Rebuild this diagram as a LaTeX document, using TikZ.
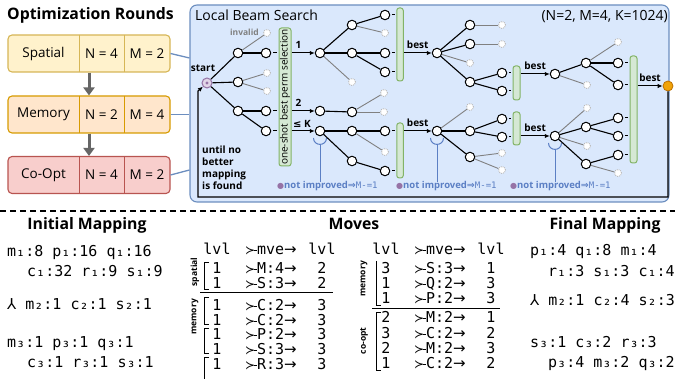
\documentclass[tikz,border=0pt]{standalone}
\usepackage{fontspec}
\setmainfont{Open Sans}
\setmonofont{DejaVu Sans Mono}
\newfontfamily\arrowfont{DejaVu Sans}
\usetikzlibrary{arrows.meta,calc}

\definecolor{fillsp}{HTML}{FFF2CC}
\definecolor{linesp}{HTML}{D6B656}
\definecolor{fillme}{HTML}{FFE6CC}
\definecolor{lineme}{HTML}{D79B00}
\definecolor{fillco}{HTML}{F8CECC}
\definecolor{lineco}{HTML}{B85450}
\definecolor{beamfill}{HTML}{DAE8FC}
\definecolor{beamline}{HTML}{6C8EBF}
\definecolor{barfill}{HTML}{D5E8D4}
\definecolor{barline}{HTML}{82B366}
\definecolor{startfill}{HTML}{E1D5E7}
\definecolor{startline}{HTML}{9673A6}
\definecolor{donefill}{HTML}{F0A30A}
\definecolor{doneline}{HTML}{BD7000}
\definecolor{noteblue}{HTML}{5B7FC4}
\definecolor{darkgray}{HTML}{666666}

% move arrow: tail, name, head
\newcommand\mvtail{{\arrowfont\fontsize{12}{12}\selectfont ≻}\kern-1.2pt\rule[3.9pt]{3pt}{0.9pt}}
\newcommand\mv[1]{\mvtail#1{\arrowfont →}}

\tikzset{
  title/.style={font=\bfseries\fontsize{15.8}{18}\selectfont, inner sep=0pt},
  rbox/.style={draw, rounded corners=4pt, line width=1.1pt, minimum width=162pt, minimum height=37pt, inner sep=0pt},
  cell/.style={font=\fontsize{13.5}{16}\selectfont, minimum height=37pt, inner sep=0pt},
  link/.style={draw=beamline, line width=1.3pt},
  garr/.style={draw=darkgray, line width=3pt, -{Triangle[length=8pt,width=11pt]}},
  beam/.style={draw=beamline, fill=beamfill, rounded corners=7pt, line width=1.1pt, inner sep=0pt},
  nd/.style={circle, draw, fill=white, line width=1pt, inner sep=0pt, minimum size=9.5pt},
  bad/.style={circle, draw=gray!55, fill=white, densely dotted, line width=0.9pt, inner sep=0pt, minimum size=7pt},
  startn/.style={circle, draw=startline, fill=startfill, line width=1pt, inner sep=0pt, minimum size=10pt},
  done/.style={circle, draw=doneline, fill=donefill, line width=0.8pt, inner sep=0pt, minimum size=10pt},
  edge/.style={line width=1.1pt},
  badedge/.style={draw=gray, line width=0.9pt},
  bar/.style={draw=barline, fill=barfill, rounded corners=2.5pt, line width=1pt, inner sep=0pt},
  tick/.style={line width=1pt, shorten <=1.5pt, shorten >=1.5pt},
  arr/.style={line width=1pt, -{Latex[length=5pt,width=4.5pt]}},
  lbl/.style={font=\bfseries\fontsize{10}{12}\selectfont, inner sep=1pt},
  note/.style={text=noteblue, font=\bfseries\fontsize{9.5}{11}\selectfont, inner sep=0pt},
  cup/.style={draw=noteblue, line width=1pt},
  mono/.style={font=\ttfamily\fontsize{15}{15}\selectfont, inner sep=0pt, anchor=base},
  side/.style={font=\bfseries\fontsize{8.5}{10}\selectfont, rotate=90, inner sep=0pt},
  brk/.style={line width=1pt}
}

\begin{document}
\begin{tikzpicture}[x=1pt,y=-1pt]
\useasboundingbox (0,0) rectangle (675,379);

% rounds
\node[title, anchor=base west] (optr) at (7,20) {Optimization Rounds};
\foreach \nm/\y/\name/\n/\m/\col in {spat/53.5/Spatial/4/2/sp, mem/114.5/Memory/2/4/me, coop/175/Co-Opt/4/2/co} {
  \node[rbox, draw=line\col, fill=fill\col] (\nm) at (89,\y) {};
  \node[cell, minimum width=71pt] (\nm1) at (43.5,\y) {\name};
  \node[cell, minimum width=45pt] (\nm2) at (101.5,\y) {N = \n};
  \node[cell, minimum width=46pt] (\nm3) at (147,\y) {M = \m};
  \draw[line\col, line width=1.1pt] (\nm1.north east) -- (\nm1.south east) (\nm2.north east) -- (\nm2.south east);
}
\draw[garr] (spat) -- (mem);
\draw[garr] (mem) -- (coop);

% beam search box
\node[beam, minimum width=479pt, minimum height=197pt] (lbs) at (429.5,103.5) {};
\node[anchor=base west, font=\fontsize{14}{16}\selectfont, inner sep=0pt] (lbstitle) at (195,21) {Local Beam Search};
\node[anchor=base east, font=\fontsize{14}{16}\selectfont, inner sep=0pt] (params) at (668,21) {(N=2, M=4, K=1024)};
\draw[link] (spat.east) -- ([yshift=-4.5pt]spat.east -| lbs.west);
\draw[link] (mem.east) -- (mem.east -| lbs.west);
\draw[link] (coop.east) -- ([yshift=5pt]coop.east -| lbs.west);

% tree
\node[startn] (s) at (207,83) {};
\fill[startline] (s) circle (1.6pt);
\node[lbl] (st) at (203,68) {start};
\foreach \n/\x/\y in {a1/238/53, a2/238/82, a3/238/111, b1/266/53, b2/266/111, b3/266/131,
  c1/320/53, c2/320/111, c3/320/131, d1/352/25, d2/352/53, d3/352/112, d4/352/131, d5/352/161,
  e1/385/15, e2/385/53, e3/385/72, e4/385/131, e5/385/171,
  f1/437/53, f2/437/131, g1/470/25, g2/470/44, g3/470/82, g4/470/131, g5/470/157,
  h1/502/73, h2/502/91, h3/502/119, h4/502/137,
  k1/555/74, k2/555/136, m1/586/63, m2/586/127, m3/586/164,
  n1/618/63, n2/618/85, n3/618/118, n4/618/136, n5/618/155}
  \node[nd] (\n) at (\x,\y) {};
\foreach \n/\x/\y in {x1/267/33, x2/267/73, x3/267/91, x4/352/82, x5/385/33, x6/384/93, x7/384/112, x8/385/152,
  x9/470/63, x10/502/25, x11/502/44, x12/470/107, x13/502/153, x14/502/170,
  x15/587/85, x16/618/42, x17/587/108, x18/587/146, x19/618/173}
  \node[bad] (\n) at (\x,\y) {};
\node[lbl, text=gray, font=\bfseries\fontsize{8.5}{10}\selectfont, anchor=east] (inv) at (260,32) {invalid};

\foreach \p/\q in {s/a1, s/a2, s/a3, a1/b1, a3/b2, a3/b3, c1/d1, c1/d2, d1/e1, d2/e2, d2/e3, c2/d3,
  c3/d4, c3/d5, d4/e4, d5/e5, f1/g1, f1/g2, f1/g3, g3/h1, g3/h2, f2/g4, f2/g5, g4/h3, g4/h4,
  k1/m1, m1/n1, m1/n2, k2/m2, k2/m3, m2/n3, m2/n4, m3/n5}
  \draw[edge] (\p) -- (\q);
\foreach \p/\q in {a1/x1, a2/x2, a2/x3, c1/x4, d1/x5, d3/x6, d3/x7, d4/x8, f1/x9, g1/x10, g2/x11,
  f2/x12, g5/x13, g5/x14, k1/x15, m1/x16, k2/x17, k2/x18, m3/x19}
  \draw[badedge] (\p) -- (\q);

% selection bars
\node[bar, minimum width=12pt, minimum height=138pt] (sel) at (285,97) {};
\node[rotate=90, font=\fontsize{10}{12}\selectfont, inner sep=0pt] (seltext) at (sel) {one-shot best perm selection};
\node[bar, minimum width=6.5pt, minimum height=73pt] (top1) at (400,44.5) {};
\node[bar, minimum width=6.5pt, minimum height=55pt] (bot1) at (400,150.5) {};
\node[bar, minimum width=7pt, minimum height=34pt] (top2) at (516.5,83) {};
\node[bar, minimum width=7pt, minimum height=33pt] (bot2) at (516.5,128.5) {};
\node[bar, minimum width=7pt, minimum height=107pt] (last) at (633.5,109.5) {};
\foreach \n/\br in {b1/sel, b2/sel, b3/sel, e1/top1, e2/top1, e3/top1, e4/bot1, e5/bot1,
  h1/top2, h2/top2, h3/bot2, h4/bot2, n1/last, n2/last, n3/last, n4/last, n5/last}
  \draw[tick] (\n) -- (\n -| \br.west);

\draw[arr] (c1 -| sel.east) -- node[lbl, above=3pt, pos=0.3] (lab1) {1} (c1);
\draw[arr] (c2 -| sel.east) -- node[lbl, above=3pt, pos=0.3] (lab2) {2} (c2);
\draw[arr] (c3 -| sel.east) -- node[lbl, above=2pt, pos=0.45] (labk) {{\arrowfont ≤} K} (c3);
\draw[arr] (f1 -| top1.east) -- node[lbl, above=3pt] (best1) {best} (f1);
\draw[arr] (f2 -| bot1.east) -- node[lbl, above=3pt] (best2) {best} (f2);
\draw[arr] (k1 -| top2.east) -- node[lbl, above=3pt] (best3) {best} (k1);
\draw[arr] (k2 -| bot2.east) -- node[lbl, above=3pt] (best4) {best} (k2);
\node[done] (fin) at (668,86) {};
\draw[arr] (fin -| last.east) -- node[lbl, above=3pt] (best5) {best} (fin);

% back to start
\coordinate (back) at (198,197);
\coordinate (turn) at (198,91);
\draw[arr, line width=1.1pt] (fin) |- (back) -- (turn) -- (s);
\node[lbl, align=left, anchor=north west] (until) at (201,145) {until no\\better\\mapping\\is found};

% no improvement
\foreach \n/\t/\x in {c3/ni1/277, f2/ni2/396, k2/ni3/510} {
  \node[note, anchor=base west] (\t) at (\x,189) {{\color{startline}\arrowfont\fontsize{8}{9}\selectfont ●}not improved{\arrowfont ⇒}{\mdseries\ttfamily\fontsize{9}{11}\selectfont M-=1}};
  \draw[cup] ($(\n)+(-6.5,7)$) .. controls +(0,8.5) and +(0,8.5) .. ($(\n)+(6.5,7)$);
  \draw[cup] ($(\n)+(0,13.4)$) -- (\n |- \t.north);
}

\draw[line width=1.2pt, dash pattern=on 6pt off 4pt] (0,211) -- (675,211);

% initial mapping
\node[title, anchor=base] (tinit) at (87,230) {Initial Mapping};
\node[mono, anchor=base west] (im1) at (7,257) {m₁:8 p₁:16 q₁:16};
\node[mono, anchor=base west] (im2) at (27,277) {c₁:32 r₁:9 s₁:9};
\node[mono, anchor=base west] (im3) at (7,310) {{\arrowfont ⅄} m₂:1 c₂:1 s₂:1};
\node[mono, anchor=base west] (im4) at (7,348) {m₃:1 p₃:1 q₃:1};
\node[mono, anchor=base west] (im5) at (27,368) {c₃:1 r₃:1 s₃:1};

% moves
\node[title, anchor=base] (tmoves) at (354,230) {Moves};
\node[mono] (lh1) at (217,255) {lvl};
\node[mono] (lh2) at (271,255) {\mv{mve}};
\node[mono] (lh3) at (322,255) {lvl};
\node[mono] (rh1) at (386,255) {lvl};
\node[mono] (rh2) at (440,255) {\mv{mve}};
\node[mono] (rh3) at (491,255) {lvl};
\foreach \y/\p/\m/\q [count=\i] in {274/1/M:4/2, 289/1/S:3/2, 311/1/C:2/3, 326/1/C:2/3, 340/1/P:2/3, 355/1/S:3/3, 370/1/R:3/3} {
  \node[mono] (la\i) at (217,\y) {\p};
  \node[mono] (lm\i) at (271,\y) {\mv{\m}};
  \node[mono] (lb\i) at (322,\y) {\q};
}
\foreach \y/\p/\m/\q [count=\i] in {274/3/S:3/1, 289/1/Q:2/3, 304/1/P:2/3, 323/2/M:2/1, 339/3/C:2/2, 354/2/M:2/3, 369/1/C:2/2} {
  \node[mono] (ra\i) at (386,\y) {\p};
  \node[mono] (rm\i) at (440,\y) {\mv{\m}};
  \node[mono] (rb\i) at (491,\y) {\q};
}
\draw[brk] (209,263) -| (204,290) -- (209,290);
\draw[brk] (209,298) -| (204,325) -- (209,325);
\draw[brk] (209,329) -| (204,354) -- (209,354);
\draw[brk] (209,358) -| (204,379);
\draw[brk] (200,293) -- (333,293);
\draw[brk] (376,261) |- (381,306);
\draw[brk] (381,313) -| (376,371) -- (381,371);
\draw[brk] (372,309) -- (500,309);
\node[side] (ls1) at (195,272) {spatial};
\node[side] (ls2) at (195,317) {memory};
\node[side] (rs1) at (364,279) {memory};
\node[side] (rs2) at (364,341) {co-opt};

% final mapping
\node[title, anchor=base] (tfinal) at (605,230) {Final Mapping};
\node[mono, anchor=base west] (fm1) at (530,256) {p₁:4 q₁:8 m₁:4};
\node[mono, anchor=base west] (fm2) at (548,277) {r₁:3 s₁:3 c₁:4};
\node[mono, anchor=base west] (fm3) at (530,306) {{\arrowfont ⅄} m₂:1 c₂:4 s₂:3};
\node[mono, anchor=base west] (fm4) at (530,348) {s₃:1 c₃:2 r₃:3};
\node[mono, anchor=base west] (fm5) at (548,367) {p₃:4 m₃:2 q₃:2};
\end{tikzpicture}
\end{document}
